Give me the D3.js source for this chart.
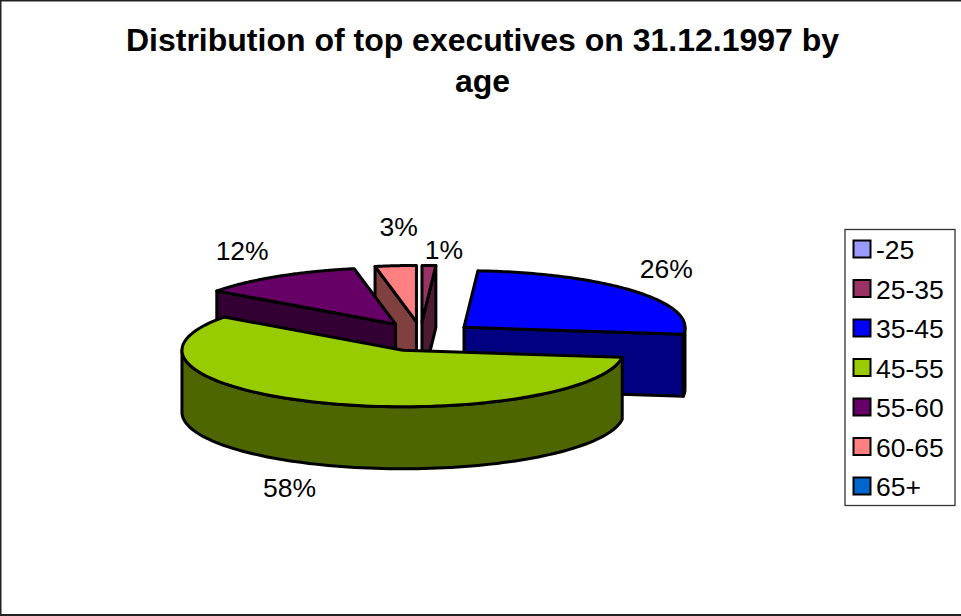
<!DOCTYPE html>
<html>
<head>
<meta charset="utf-8">
<script src="https://cdn.jsdelivr.net/npm/d3@7"></script>
<style>
  html, body { margin: 0; padding: 0; background: #fff; }
  svg { display: block; }
  text { font-family: "Liberation Sans", Arial, sans-serif; fill: #000; }
</style>
</head>
<body>
<svg id="chart" width="961" height="616"></svg>
<script>
// Age bands and their share of top executives, in percent
const categories = ["-25", "25-35", "35-45", "45-55", "55-60", "60-65", "65+"];
const shares = [0, 1, 26, 58, 12, 3, 0];
const topColors = ["#9999ff", "#993366", "#0000ff", "#99cc00", "#660066", "#ff8080", "#0066cc"];
const sideColors = ["#4d4d80", "#4d1a33", "#000080", "#4d6600", "#330033", "#804040", "#003366"];
const titleLines = ["Distribution of top executives on 31.12.1997 by", "age"];

// Projection of the tilted, exploded pie
const center = { x: 422.7, y: 336.6 };
const radius = { x: 221, y: 56.5 };
const explode = { x: 53.6, y: 14.7 };
const depth = 62;
const arcSteps = 96;

// Small horizontal corrections for the perspective of the narrow slices
const sliceShift = { "25-35": -2.4, "55-60": 1.6, "60-65": -1.2 };

// Label placement relative to the rim point at each slice's middle angle
const labelShift = {
  "25-35": [15, -15],
  "35-45": [32, -22],
  "45-55": [-32, 85.5],
  "55-60": [-35, -25],
  "60-65": [3, -39]
};

const svg = d3.select("#chart");

// The frame's right edge falls just outside the canvas
svg.append("rect")
  .attr("x", 0.5).attr("y", 0.5)
  .attr("width", 970).attr("height", 614.5)
  .attr("fill", "#fff").attr("stroke", "#222").attr("stroke-width", 2);

svg.selectAll("text.title")
  .data(titleLines)
  .join("text")
  .attr("class", "title")
  .attr("x", 482.5)
  .attr("y", (d, i) => 51 + i * 41)
  .attr("text-anchor", "middle")
  .attr("font-size", 32)
  .attr("font-weight", "bold")
  .text(d => d);

const pie = d3.pie().sort(null).startAngle(0).endAngle(2 * Math.PI);
const slices = pie(shares)
  .map((s, i) => ({ ...s, index: i, name: categories[i] }))
  .filter(s => s.value > 0)
  .map(s => {
    const mid = (s.startAngle + s.endAngle) / 2;
    return {
      ...s,
      mid,
      cx: center.x + explode.x * Math.sin(mid) + (sliceShift[s.name] || 0),
      cy: center.y - explode.y * Math.cos(mid)
    };
  });

const rim = (s, a) => [s.cx + radius.x * Math.sin(a), s.cy - radius.y * Math.cos(a)];
const lower = ([x, y]) => [x, y + depth];
const arcPoints = (s, a0, a1) =>
  d3.range(arcSteps + 1).map(k => rim(s, a0 + (a1 - a0) * k / arcSteps));
const outline = d3.line().curve(d3.curveLinearClosed);

const paint = (g, pts, fill) =>
  g.append("path")
    .attr("d", outline(pts))
    .attr("fill", fill)
    .attr("stroke", "#000")
    .attr("stroke-width", 3)
    .attr("stroke-linejoin", "round");

// Back slices are painted first so the front ones overlap them
const ordered = slices.slice().sort((a, b) => d3.descending(Math.cos(a.mid), Math.cos(b.mid)));

ordered.forEach(s => {
  const g = svg.append("g").attr("class", "slice");
  const apex = [s.cx, s.cy];
  const side = sideColors[s.index];

  // Cut faces that turn toward the viewer
  if (Math.sin(s.startAngle) < -1e-6) {
    const p = rim(s, s.startAngle);
    paint(g, [apex, p, lower(p), lower(apex)], side);
  }
  if (Math.sin(s.endAngle) > 1e-6) {
    const p = rim(s, s.endAngle);
    paint(g, [apex, p, lower(p), lower(apex)], side);
  }

  // Outer wall over the front half of the rim
  const a0 = Math.max(s.startAngle, Math.PI / 2);
  const a1 = Math.min(s.endAngle, 3 * Math.PI / 2);
  if (a1 > a0) {
    const edge = arcPoints(s, a0, a1);
    paint(g, edge.concat(edge.slice().reverse().map(lower)), side);
  }

  // Top face
  paint(g, [apex].concat(arcPoints(s, s.startAngle, s.endAngle)), topColors[s.index]);
});

// Percentage labels
svg.selectAll("text.pct")
  .data(slices)
  .join("text")
  .attr("class", "pct")
  .attr("x", s => rim(s, s.mid)[0] + labelShift[s.name][0])
  .attr("y", s => rim(s, s.mid)[1] + labelShift[s.name][1])
  .attr("text-anchor", "middle")
  .attr("dominant-baseline", "central")
  .attr("font-size", 26.5)
  .text(s => s.value + "%");

// Legend
const legendY = d3.scalePoint().domain(categories).range([249, 486]);
const legend = svg.append("g").attr("class", "legend");

legend.append("rect")
  .attr("x", 845).attr("y", 229.5)
  .attr("width", 110).attr("height", 276)
  .attr("fill", "#fff").attr("stroke", "#333").attr("stroke-width", 1.3);

legend.selectAll("rect.swatch")
  .data(categories)
  .join("rect")
  .attr("class", "swatch")
  .attr("x", 853.5)
  .attr("y", d => legendY(d) - 8.5)
  .attr("width", 17)
  .attr("height", 17)
  .attr("fill", (d, i) => topColors[i])
  .attr("stroke", "#000")
  .attr("stroke-width", 2);

legend.selectAll("text.entry")
  .data(categories)
  .join("text")
  .attr("class", "entry")
  .attr("x", 876)
  .attr("y", d => legendY(d) + 1)
  .attr("dominant-baseline", "central")
  .attr("font-size", 26.5)
  .text(d => d);
</script>
</body>
</html>
